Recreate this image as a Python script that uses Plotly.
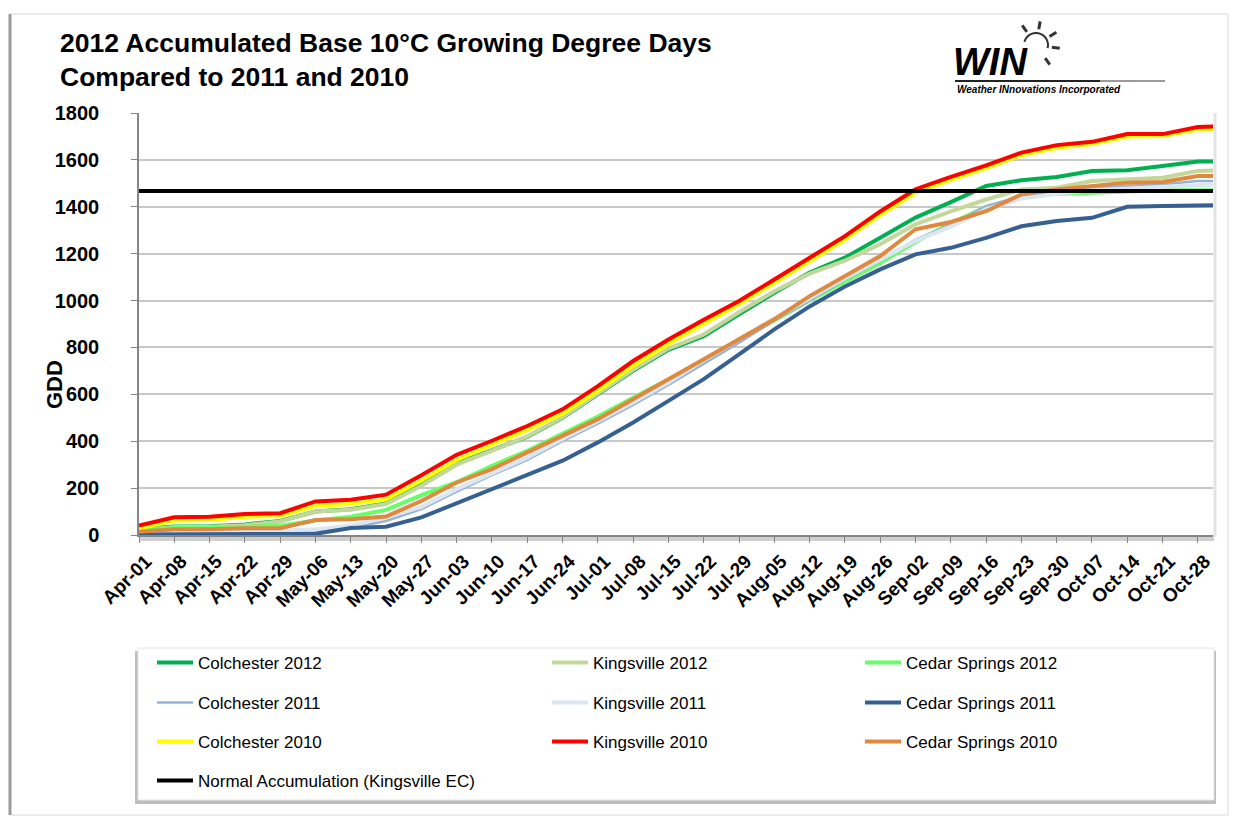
import math
import plotly.graph_objects as go

# ---------------- data (weekly + Oct-31) ----------------
dates = ["2012-04-01", "2012-04-08", "2012-04-15", "2012-04-22", "2012-04-29",
         "2012-05-06", "2012-05-13", "2012-05-20", "2012-05-27", "2012-06-03",
         "2012-06-10", "2012-06-17", "2012-06-24", "2012-07-01", "2012-07-08",
         "2012-07-15", "2012-07-22", "2012-07-29", "2012-08-05", "2012-08-12",
         "2012-08-19", "2012-08-26", "2012-09-02", "2012-09-09", "2012-09-16",
         "2012-09-23", "2012-09-30", "2012-10-07", "2012-10-14", "2012-10-21",
         "2012-10-28", "2012-10-31"]

tick_labels = ["Apr-01", "Apr-08", "Apr-15", "Apr-22", "Apr-29", "May-06", "May-13",
               "May-20", "May-27", "Jun-03", "Jun-10", "Jun-17", "Jun-24", "Jul-01",
               "Jul-08", "Jul-15", "Jul-22", "Jul-29", "Aug-05", "Aug-12", "Aug-19",
               "Aug-26", "Sep-02", "Sep-09", "Sep-16", "Sep-23", "Sep-30", "Oct-07",
               "Oct-14", "Oct-21", "Oct-28"]

colchester_2012 = [24, 36, 37, 45, 60, 100, 110, 135, 215, 305, 362, 418, 500, 600, 700,
                   790, 848, 941, 1033, 1119, 1183, 1268, 1354, 1420, 1489, 1513, 1527,
                   1553, 1556, 1574, 1593, 1593]
kingsville_2012 = [20, 34, 35, 42, 58, 100, 108, 132, 210, 300, 360, 420, 502, 603, 705,
                   795, 855, 950, 1040, 1115, 1170, 1240, 1325, 1380, 1431, 1474, 1481,
                   1510, 1517, 1524, 1553, 1555]
cedar_springs_2012 = [22, 30, 30, 35, 40, 62, 78, 107, 170, 225, 295, 359, 430, 505, 585,
                      665, 742, 835, 915, 1000, 1080, 1160, 1250, 1330, 1400, 1440, 1455,
                      1462, 1465, 1470, 1470, 1470]
colchester_2011 = [5, 5, 6, 8, 10, 20, 30, 60, 110, 185, 255, 320, 400, 475, 555, 640,
                   730, 820, 915, 1000, 1090, 1170, 1260, 1324, 1403, 1446, 1467, 1481,
                   1489, 1496, 1510, 1510]
kingsville_2011 = [8, 10, 12, 15, 18, 25, 40, 75, 120, 195, 262, 330, 410, 485, 565, 650,
                   745, 835, 925, 1010, 1095, 1175, 1255, 1315, 1390, 1435, 1455, 1470,
                   1478, 1485, 1495, 1495]
cedar_springs_2011 = [2, 2, 2, 3, 3, 5, 30, 35, 75, 135, 196, 253, 317, 395, 480, 572,
                      665, 770, 877, 975, 1060, 1133, 1197, 1225, 1267, 1317, 1339, 1353,
                      1400, 1403, 1406, 1406]
colchester_2010 = [29, 62, 64, 78, 81, 124, 133, 152, 232, 320, 385, 448, 518, 615, 722,
                   816, 900, 984, 1075, 1168, 1260, 1365, 1460, 1515, 1565, 1620, 1652,
                   1668, 1700, 1702, 1730, 1732]
kingsville_2010 = [40, 76, 78, 90, 93, 143, 150, 172, 255, 342, 402, 465, 536, 635, 742,
                   834, 918, 998, 1090, 1183, 1275, 1380, 1475, 1528, 1577, 1631, 1663,
                   1677, 1710, 1710, 1740, 1742]
cedar_springs_2010 = [14, 24, 24, 29, 29, 64, 67, 79, 145, 224, 281, 352, 423, 494, 579,
                      664, 752, 834, 920, 1019, 1105, 1190, 1304, 1335, 1381, 1453, 1474,
                      1489, 1503, 1506, 1531, 1531]
normal_kingsville_ec = [1467] * len(dates)

series = [
    ("Colchester 2012", colchester_2012, "#00B050", 4),
    ("Kingsville 2012", kingsville_2012, "#C4D79B", 4),
    ("Cedar Springs 2012", cedar_springs_2012, "#66FF66", 4),
    ("Colchester 2011", colchester_2011, "#95B3D7", 2.5),
    ("Kingsville 2011", kingsville_2011, "#DCE6F2", 4),
    ("Cedar Springs 2011", cedar_springs_2011, "#376092", 4),
    ("Colchester 2010", colchester_2010, "#FFFF00", 4),
    ("Kingsville 2010", kingsville_2010, "#FF0000", 4),
    ("Cedar Springs 2010", cedar_springs_2010, "#E0883E", 4),
    ("Normal Accumulation (Kingsville EC)", normal_kingsville_ec, "#000000", 4),
]

# ---------------- geometry helpers (pixel -> paper) ----------------
W, H = 1235, 821
PL, PR, PT, PB = 139, 1213, 113, 535


def px(x):
    return (x - PL) / (PR - PL)


def py(y):
    return (PB - y) / (PB - PT)


FONT = "Liberation Sans, Arial, sans-serif"

fig = go.Figure()

# legend slots: (column x of line sample, row y)
col_x = [152, 547, 860]
row_y = [663, 703, 742, 781]
legend_layouts = {}
for i, (name, vals, color, lw) in enumerate(series):
    key = "legend" if i == 0 else f"legend{i + 1}"
    fig.add_trace(go.Scatter(
        x=dates, y=vals, mode="lines", name=name,
        line=dict(color=color, width=lw),
        legend=key, hoverinfo="skip",
    ))
    r, c = (i // 3, i % 3) if i < 9 else (3, 0)
    legend_layouts[key] = dict(
        x=px(col_x[c]), y=py(row_y[r]), xanchor="left", yanchor="middle",
        bgcolor="rgba(0,0,0,0)", borderwidth=0,
        font=dict(family=FONT, size=17, color="#000000"),
        itemwidth=36,
    )

shapes = []
# outer chart frame
shapes.append(dict(type="rect", xref="paper", yref="paper",
                   x0=px(10), x1=px(1228), y0=py(815), y1=py(14),
                   line=dict(color="#d9d9d9", width=1), fillcolor="rgba(0,0,0,0)", layer="below"))
shapes.append(dict(type="line", xref="paper", yref="paper",
                   x0=px(10), x1=px(10), y0=py(815), y1=py(14),
                   line=dict(color="#9a9a9a", width=3), layer="below"))
# shadow under x-axis and at right edge of plot area
shapes.append(dict(type="line", xref="paper", yref="paper",
                   x0=px(139), x1=px(1214), y0=py(539), y1=py(539),
                   line=dict(color="#cfcfcf", width=4), layer="below"))
shapes.append(dict(type="line", xref="paper", yref="paper",
                   x0=px(1215), x1=px(1215), y0=py(537), y1=py(113),
                   line=dict(color="#e3e3e3", width=3), layer="below"))
# legend box with shadow
shapes.append(dict(type="rect", xref="paper", yref="paper",
                   x0=px(135), x1=px(1216), y0=py(804), y1=py(651),
                   line=dict(width=0), fillcolor="#bdbdbd", layer="below"))
shapes.append(dict(type="rect", xref="paper", yref="paper",
                   x0=px(138), x1=px(1214), y0=py(800), y1=py(648),
                   line=dict(color="#e6e6e6", width=1), fillcolor="#ffffff", layer="below"))

# logo: underline
shapes.append(dict(type="line", xref="paper", yref="paper",
                   x0=px(955), x1=px(1100), y0=py(81), y1=py(81),
                   line=dict(color="#222222", width=2)))
shapes.append(dict(type="line", xref="paper", yref="paper",
                   x0=px(1100), x1=px(1165), y0=py(81), y1=py(81),
                   line=dict(color="#9a9a9a", width=2)))
# logo: sun arc + rays
cx, cy, rad = 1036, 45, 12
pts = []
for k in range(0, 19):
    a = math.radians(165 - k * 10)
    pts.append((px(cx + rad * math.cos(a)), py(cy - rad * math.sin(a))))
path = "M " + " L ".join(f"{a:.5f},{b:.5f}" for a, b in pts)
shapes.append(dict(type="path", xref="paper", yref="paper", path=path,
                   line=dict(color="#333333", width=2)))
for ang in [125, 80, 32, -8, -55]:
    a = math.radians(ang)
    shapes.append(dict(type="line", xref="paper", yref="paper",
                       x0=px(cx + 16 * math.cos(a)), y0=py(cy - 16 * math.sin(a)),
                       x1=px(cx + 24 * math.cos(a)), y1=py(cy - 24 * math.sin(a)),
                       line=dict(color="#333333", width=3)))

annotations = [
    dict(text="<b>GDD</b>", xref="paper", yref="paper", x=px(54), y=py(385),
         xanchor="center", yanchor="middle", textangle=-90, showarrow=False,
         font=dict(family=FONT, size=22, color="#000000")),
    dict(text="<b><i>WIN</i></b>", xref="paper", yref="paper", x=px(951), y=py(62),
         xanchor="left", yanchor="middle", showarrow=False,
         font=dict(family=FONT, size=38, color="#000000")),
    dict(text="<b><i>Weather INnovations Incorporated</i></b>", xref="paper", yref="paper",
         x=px(955), y=py(90), xanchor="left", yanchor="middle", showarrow=False,
         font=dict(family=FONT, size=10, color="#000000")),
]

fig.update_layout(
    width=W, height=H,
    margin=dict(l=PL, r=W - PR, t=PT, b=H - PB, autoexpand=False),
    paper_bgcolor="#ffffff", plot_bgcolor="#ffffff",
    title=dict(text="<b>2012 Accumulated Base 10°C Growing Degree Days<br>Compared to 2011 and 2010</b>",
               x=60 / W, xanchor="left", xref="container",
               y=1 - 52 / H, yanchor="top", yref="container",
               font=dict(family=FONT, size=26.5, color="#000000")),
    xaxis=dict(type="date", range=[dates[0], dates[-1]],
               tickmode="array", tickvals=dates[:len(tick_labels)], ticktext=tick_labels,
               tickangle=-45, tickfont=dict(family=FONT, size=19, color="#000000", weight="bold"),
               ticklabelshift=7,
               ticks="outside", ticklen=6, tickcolor="#868686", tickwidth=1,
               showline=True, linecolor="#868686", linewidth=1.5,
               showgrid=False, zeroline=False, fixedrange=True),
    yaxis=dict(range=[0, 1800], tickmode="linear", tick0=0, dtick=200,
               tickfont=dict(family=FONT, size=20, color="#000000", weight="bold"),
               ticks="outside", ticklen=6, tickcolor="#868686", ticklabelstandoff=28,
               showline=True, linecolor="#868686", linewidth=1.5,
               showgrid=True, gridcolor="#c8c8c8", gridwidth=1.5,
               zeroline=False, fixedrange=True),
    shapes=shapes,
    annotations=annotations,
    showlegend=True,
    **legend_layouts,
)

fig.write_html("out.html", config={"displayModeBar": False},
               post_script="document.body.style.margin='0';document.body.style.padding='0';")
